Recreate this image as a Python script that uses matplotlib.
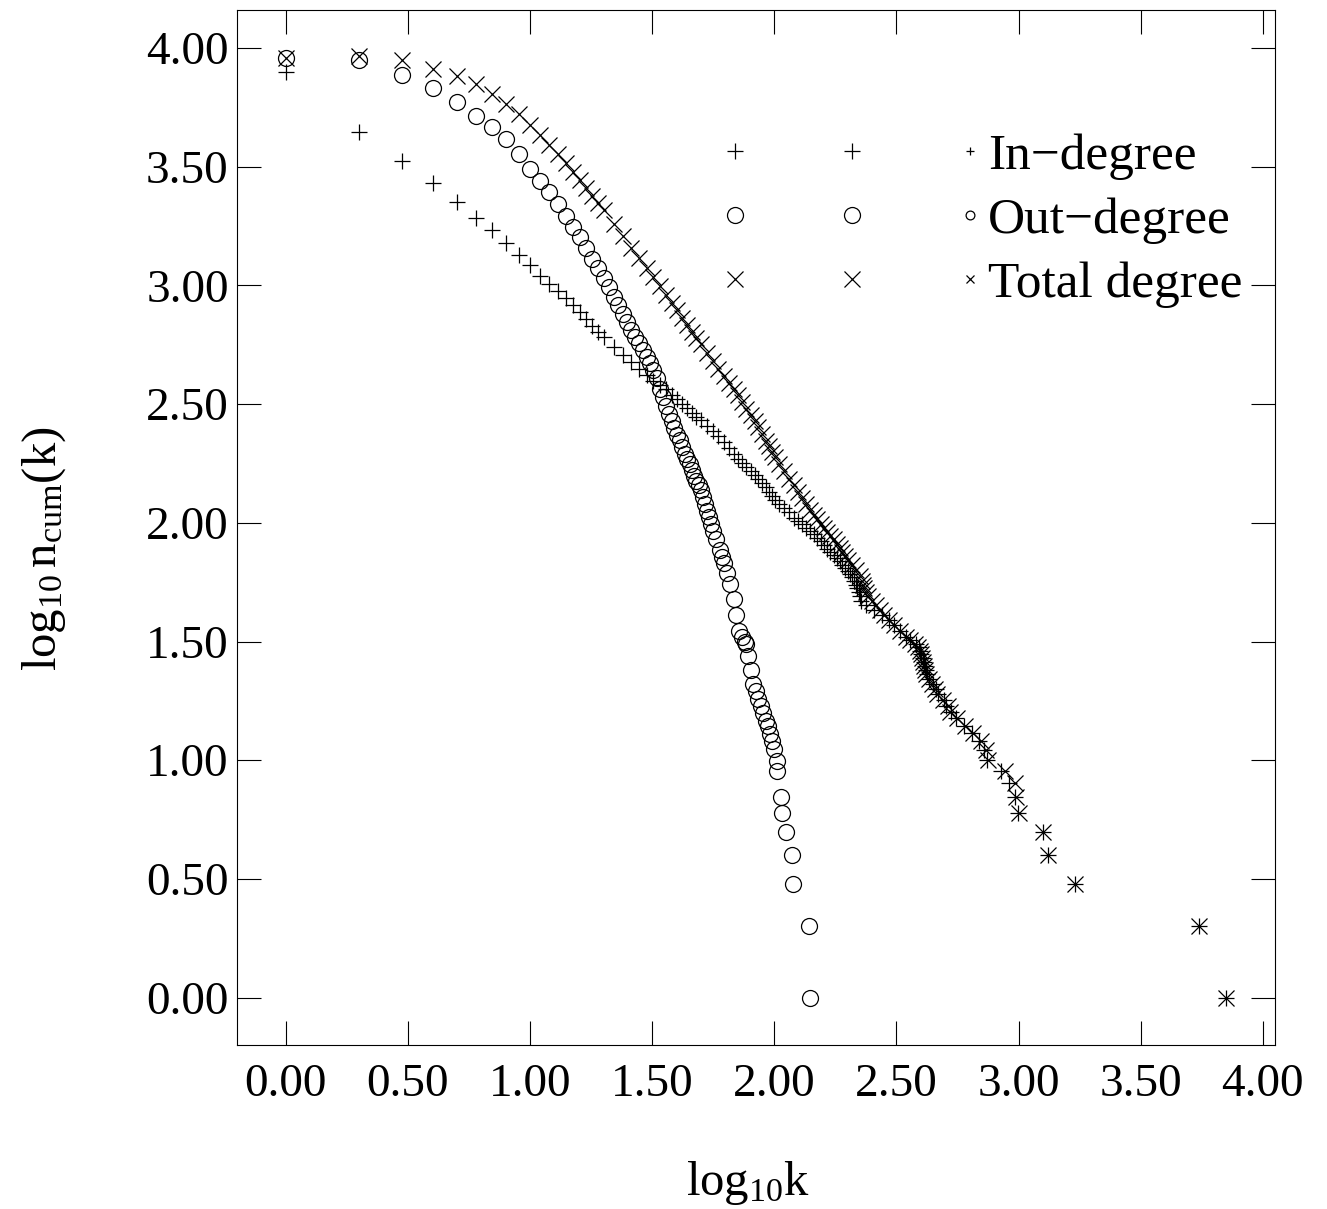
import numpy as np
import matplotlib

matplotlib.use("Agg")
import matplotlib.pyplot as plt
from matplotlib.legend_handler import HandlerLine2D
from matplotlib.lines import Line2D
from matplotlib.ticker import FormatStrFormatter

plt.rcParams["font.family"] = ["Liberation Serif", "DejaVu Serif"]
plt.rcParams["mathtext.fontset"] = "custom"
plt.rcParams["mathtext.rm"] = "Liberation Serif"
plt.rcParams["mathtext.it"] = "Liberation Serif:italic"

# log10 k / log10 n_cum(k)
in_logk = [
    0.000, 0.301, 0.477, 0.602, 0.699, 0.778, 0.845, 0.903, 0.954, 1.000,
    1.041, 1.079, 1.114, 1.146, 1.176, 1.204, 1.230, 1.255, 1.279, 1.301,
    1.342, 1.380, 1.415, 1.447, 1.477, 1.505, 1.531, 1.556, 1.580, 1.602,
    1.623, 1.643, 1.663, 1.681, 1.699,
    1.724, 1.748, 1.771, 1.792, 1.813, 1.833, 1.851, 1.869, 1.886, 1.903,
    1.919, 1.934, 1.949, 1.964, 1.978, 1.991, 2.004,
    2.021, 2.041, 2.061, 2.079, 2.097, 2.114, 2.130, 2.146, 2.161, 2.176,
    2.190, 2.204, 2.217, 2.230, 2.243, 2.255, 2.267, 2.279, 2.290,
    2.300, 2.309, 2.318, 2.328, 2.335, 2.340, 2.345, 2.350, 2.356, 2.375,
    2.410, 2.440, 2.470, 2.490, 2.515, 2.540, 2.556, 2.580, 2.592, 2.598,
    2.602, 2.607, 2.612, 2.616, 2.620, 2.625, 2.635, 2.648, 2.660, 2.670,
    2.695, 2.705, 2.725, 2.745, 2.775, 2.810, 2.840, 2.860, 2.870, 2.930,
    2.960, 2.985, 2.997, 3.101, 3.119, 3.233, 3.739, 3.848,
]
in_logn = [
    3.900, 3.647, 3.525, 3.432, 3.352, 3.286, 3.232, 3.179, 3.127, 3.085,
    3.042, 3.006, 2.975, 2.947, 2.918, 2.889, 2.859, 2.829, 2.803, 2.781,
    2.742, 2.708, 2.676, 2.648, 2.621, 2.598, 2.582, 2.562, 2.540, 2.520,
    2.500, 2.482, 2.464, 2.448, 2.432,
    2.410, 2.388, 2.366, 2.342, 2.316, 2.292, 2.271, 2.252, 2.235, 2.218,
    2.201, 2.185, 2.168, 2.150, 2.131, 2.114, 2.098,
    2.081, 2.063, 2.044, 2.022, 2.007, 1.994, 1.980, 1.966, 1.952, 1.937,
    1.922, 1.906, 1.890, 1.879, 1.866, 1.852, 1.838, 1.824, 1.811,
    1.799, 1.785, 1.771, 1.756, 1.740, 1.724, 1.708, 1.690, 1.672, 1.653,
    1.633, 1.613, 1.591, 1.568, 1.544, 1.519, 1.505, 1.491, 1.477, 1.462,
    1.447, 1.431, 1.415, 1.398, 1.380, 1.362, 1.342, 1.322, 1.301, 1.279,
    1.255, 1.230, 1.204, 1.176, 1.146, 1.114, 1.079, 1.041, 1.000, 0.954,
    0.903, 0.845, 0.778, 0.699, 0.602, 0.477, 0.301, 0.000,
]

out_logk = [
    0.000, 0.301, 0.477, 0.602, 0.699, 0.778, 0.845, 0.903, 0.954, 1.000,
    1.041, 1.079, 1.114, 1.146, 1.176, 1.204, 1.230, 1.255, 1.279, 1.301,
    1.322, 1.342, 1.362, 1.380, 1.398, 1.415, 1.431, 1.447, 1.462, 1.477,
    1.491, 1.505, 1.519, 1.531, 1.544, 1.556, 1.568, 1.580, 1.591, 1.602,
    1.613, 1.623, 1.633, 1.643, 1.653, 1.663, 1.672, 1.681, 1.690, 1.699,
    1.708, 1.716, 1.724, 1.732, 1.740, 1.748, 1.763, 1.778, 1.785, 1.792,
    1.806, 1.820, 1.833, 1.845, 1.857, 1.869, 1.881, 1.886, 1.892, 1.903,
    1.914, 1.924, 1.934, 1.944, 1.954, 1.964, 1.973, 1.982, 1.991, 2.000,
    2.009, 2.013, 2.029, 2.033, 2.049, 2.072, 2.076, 2.140, 2.146,
]
out_logn = [
    3.960, 3.950, 3.885, 3.832, 3.771, 3.715, 3.666, 3.617, 3.554, 3.491,
    3.441, 3.392, 3.343, 3.294, 3.245, 3.203, 3.160, 3.112, 3.072, 3.030,
    2.992, 2.952, 2.918, 2.880, 2.845, 2.812, 2.785, 2.758, 2.730, 2.700,
    2.672, 2.642, 2.612, 2.565, 2.530, 2.492, 2.460, 2.428, 2.400, 2.372,
    2.348, 2.320, 2.292, 2.270, 2.248, 2.222, 2.198, 2.178, 2.160, 2.140,
    2.110, 2.080, 2.051, 2.025, 1.995, 1.967, 1.930, 1.885, 1.855, 1.830,
    1.790, 1.743, 1.680, 1.610, 1.545, 1.520, 1.500, 1.490, 1.440, 1.380,
    1.321, 1.290, 1.260, 1.230, 1.200, 1.167, 1.146, 1.110, 1.083, 1.046,
    0.998, 0.956, 0.845, 0.778, 0.699, 0.602, 0.477, 0.301, 0.000,
]

total_logk = [
    0.000, 0.301, 0.477, 0.602, 0.699, 0.778, 0.845, 0.903, 0.954, 1.000,
    1.041, 1.079, 1.114, 1.146, 1.176, 1.204, 1.230, 1.255, 1.279, 1.301,
    1.342, 1.380, 1.415, 1.447, 1.477, 1.505, 1.531, 1.556, 1.580, 1.602,
    1.623, 1.643, 1.663, 1.681, 1.699,
    1.724, 1.748, 1.771, 1.792, 1.813, 1.833, 1.851, 1.869, 1.886, 1.903,
    1.919, 1.934, 1.949, 1.964, 1.978, 1.991, 2.004,
    2.021, 2.041, 2.061, 2.079, 2.097, 2.114, 2.130, 2.146, 2.161, 2.176,
    2.190, 2.204, 2.217, 2.230, 2.243, 2.255, 2.267, 2.279, 2.290,
    2.301, 2.318, 2.334, 2.350,
    2.358, 2.364, 2.369, 2.374, 2.385, 2.400, 2.416, 2.433, 2.450, 2.469,
    2.490, 2.515, 2.540, 2.554, 2.575, 2.590, 2.596, 2.600, 2.605, 2.610,
    2.614, 2.618, 2.622, 2.632, 2.645, 2.657, 2.668, 2.690, 2.710, 2.720,
    2.750, 2.780, 2.815, 2.845, 2.865, 2.875, 2.945, 2.985, 2.990, 3.000,
    3.100, 3.120, 3.233, 3.739, 3.848,
]
total_logn = [
    3.960, 3.965, 3.948, 3.912, 3.884, 3.849, 3.807, 3.766, 3.724, 3.675,
    3.633, 3.592, 3.553, 3.516, 3.480, 3.445, 3.411, 3.378, 3.346, 3.316,
    3.260, 3.208, 3.160, 3.116, 3.074, 3.035, 2.998, 2.962, 2.927, 2.895,
    2.864, 2.834, 2.805, 2.778, 2.752,
    2.716, 2.681, 2.650, 2.620, 2.591, 2.563, 2.537, 2.511, 2.480, 2.455,
    2.428, 2.403, 2.373, 2.345, 2.322, 2.300, 2.278,
    2.250, 2.218, 2.186, 2.158, 2.130, 2.104, 2.078, 2.055, 2.034, 2.015,
    1.997, 1.980, 1.963, 1.946, 1.930, 1.912, 1.895, 1.878, 1.861,
    1.845, 1.822, 1.800, 1.778,
    1.756, 1.740, 1.724, 1.708, 1.690, 1.672, 1.653, 1.633, 1.613, 1.591,
    1.568, 1.544, 1.519, 1.505, 1.491, 1.477, 1.462, 1.447, 1.431, 1.415,
    1.398, 1.380, 1.362, 1.342, 1.322, 1.301, 1.279, 1.255, 1.230, 1.204,
    1.176, 1.146, 1.114, 1.079, 1.041, 1.000, 0.954, 0.903, 0.845, 0.778,
    0.699, 0.602, 0.477, 0.301, 0.000,
]

series_labels = ["In\u2212degree", "Out\u2212degree", "Total degree"]
x_ticks = [0.0, 0.5, 1.0, 1.5, 2.0, 2.5, 3.0, 3.5, 4.0]
y_ticks = [0.0, 0.5, 1.0, 1.5, 2.0, 2.5, 3.0, 3.5, 4.0]


class TripleMarkerHandler(HandlerLine2D):
    """gnuplot-like key: two full-size marks and a small one next to the text."""

    def create_artists(self, legend, orig_handle, xdescent, ydescent,
                       width, height, fontsize, trans):
        xs = np.array([0.0, 0.5, 1.0]) * width - xdescent
        y = height / 2.0 - ydescent
        style = dict(
            linestyle="none",
            marker=orig_handle.get_marker(),
            color="black",
            markerfacecolor="none",
            markeredgewidth=orig_handle.get_markeredgewidth(),
        )
        big = Line2D(xs[:2], [y, y], markersize=orig_handle.get_markersize(), **style)
        small = Line2D(xs[2:], [y], markersize=orig_handle.get_markersize() * 0.55, **style)
        for artist in (big, small):
            artist.set_transform(trans)
        return [big, small]


fig = plt.figure(figsize=(13.27, 12.09), dpi=100)
ax = fig.add_axes([0.1786, 0.1356, 0.7822, 0.856])

marker_kw = dict(linestyle="none", color="black", markerfacecolor="none",
                 markersize=11.5, markeredgewidth=0.9)
ax.plot(in_logk, in_logn, marker="+", label=series_labels[0], **marker_kw)
ax.plot(out_logk, out_logn, marker="o", label=series_labels[1], **marker_kw)
ax.plot(total_logk, total_logn, marker="x", label=series_labels[2], **marker_kw)

ax.set_xlim(-0.2, 4.05)
ax.set_ylim(-0.2, 4.16)
ax.set_xticks(x_ticks)
ax.set_yticks(y_ticks)
ax.xaxis.set_major_formatter(FormatStrFormatter("%.2f"))
ax.yaxis.set_major_formatter(FormatStrFormatter("%.2f"))
ax.tick_params(which="major", direction="in", length=17, width=0.8,
               top=True, right=True, labelsize=34)
ax.tick_params(axis="x", pad=13)
ax.tick_params(axis="y", pad=6)
for spine in ax.spines.values():
    spine.set_linewidth(0.8)

ax.set_xlabel(r"$\mathrm{log}_{10}\mathrm{k}$", fontsize=35)
ax.set_ylabel(r"$\mathrm{log}_{10}\,\mathrm{n}_{\mathrm{cum}}\mathrm{(k)}$", fontsize=35)
ax.xaxis.set_label_coords(0.492, -0.110)
ax.yaxis.set_label_coords(-0.163, 0.48)

ax.legend(
    handler_map={Line2D: TripleMarkerHandler()},
    loc="upper left",
    bbox_to_anchor=(0.4798, 0.8815),
    frameon=False,
    fontsize=37,
    borderpad=0.0,
    borderaxespad=0.0,
    handlelength=4.57,
    handletextpad=0.35,
    labelspacing=0.33,
)

fig.savefig("out.png", dpi=100)
